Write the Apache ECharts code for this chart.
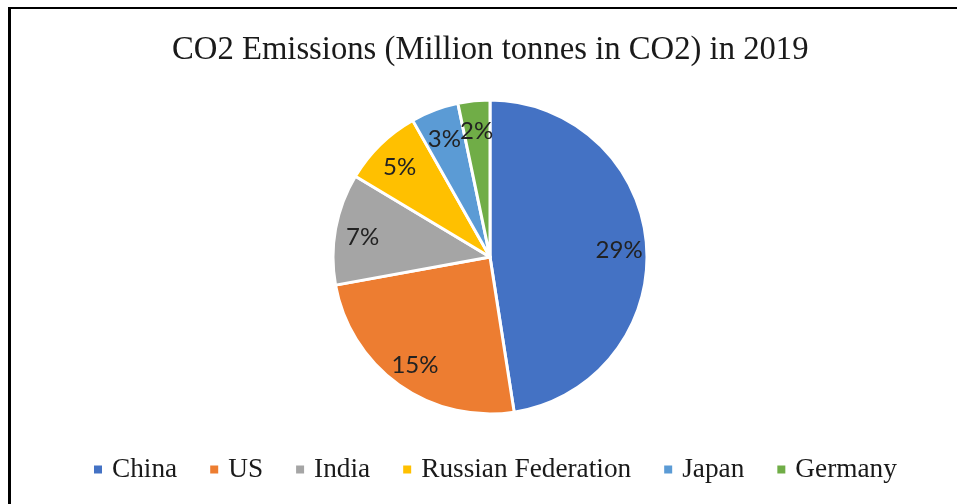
<!DOCTYPE html>
<html>
<head>
<meta charset="utf-8">
<script src="https://cdn.jsdelivr.net/npm/echarts@6/dist/echarts.min.js"></script>
<style>
html,body{margin:0;padding:0;background:#fff;width:957px;height:504px;overflow:hidden;}
#chart{position:absolute;left:0;top:0;width:957px;height:504px;}
#frame{position:absolute;left:8px;top:7px;width:1100px;height:700px;border-left:3px solid #000;border-top:2px solid #000;pointer-events:none;}
</style>
</head>
<body>
<div id="chart"></div>
<div id="frame"></div>
<script>
const titleText = 'CO2 Emissions (Million tonnes in CO2) in 2019';
const categories = ['China', 'US', 'India', 'Russian Federation', 'Japan', 'Germany'];
const shares = [29, 15, 7, 5, 3, 2];
const colors = ['#4472C4', '#ED7D31', '#A5A5A5', '#FFC000', '#5B9BD5', '#70AD47'];

const serif = '"Liberation Serif", "DejaVu Serif", serif';
const sans = 'Lato, "Liberation Sans", sans-serif';

const mainData = categories.map((c, i) => ({ name: c, value: shares[i], itemStyle: { color: colors[i] } }));
const labelData = categories.map((c, i) => ({ name: c, value: shares[i] }));

const chart = echarts.init(document.getElementById('chart'), null, { renderer: 'canvas' });
chart.setOption({
  animation: false,
  backgroundColor: '#fff',
  title: {
    text: titleText,
    left: 167,
    top: 29,
    textStyle: { fontFamily: serif, fontSize: 32.7, fontWeight: 'normal', color: '#1a1a1a' }
  },
  legend: {
    data: categories,
    left: 87,
    top: 451,
    icon: 'rect',
    itemWidth: 10,
    itemHeight: 10,
    itemGap: 31,
    textStyle: { fontFamily: serif, fontSize: 27.3, color: '#1a1a1a', padding: [0, 0, 0, 4] }
  },
  series: [
    {
      type: 'pie',
      center: [490, 257],
      radius: [0, 157],
      startAngle: 90,
      clockwise: true,
      data: mainData,
      label: { show: false },
      labelLine: { show: false },
      itemStyle: { borderColor: '#fff', borderWidth: 3 },
      emphasis: { disabled: true }
    },
    {
      type: 'pie',
      center: [490, 257],
      radius: [96, 157],
      startAngle: 90,
      clockwise: true,
      silent: true,
      avoidLabelOverlap: false,
      minShowLabelAngle: 0,
      data: labelData,
      itemStyle: { color: 'rgba(0,0,0,0)', borderWidth: 0 },
      label: {
        show: true,
        position: 'inside',
        formatter: '{c}%',
        fontFamily: sans,
        fontSize: 24,
        color: '#222',
        offset: [0, 3]
      },
      labelLayout: { hideOverlap: false },
      labelLine: { show: false },
      emphasis: { disabled: true }
    }
  ]
});
</script>
</body>
</html>
